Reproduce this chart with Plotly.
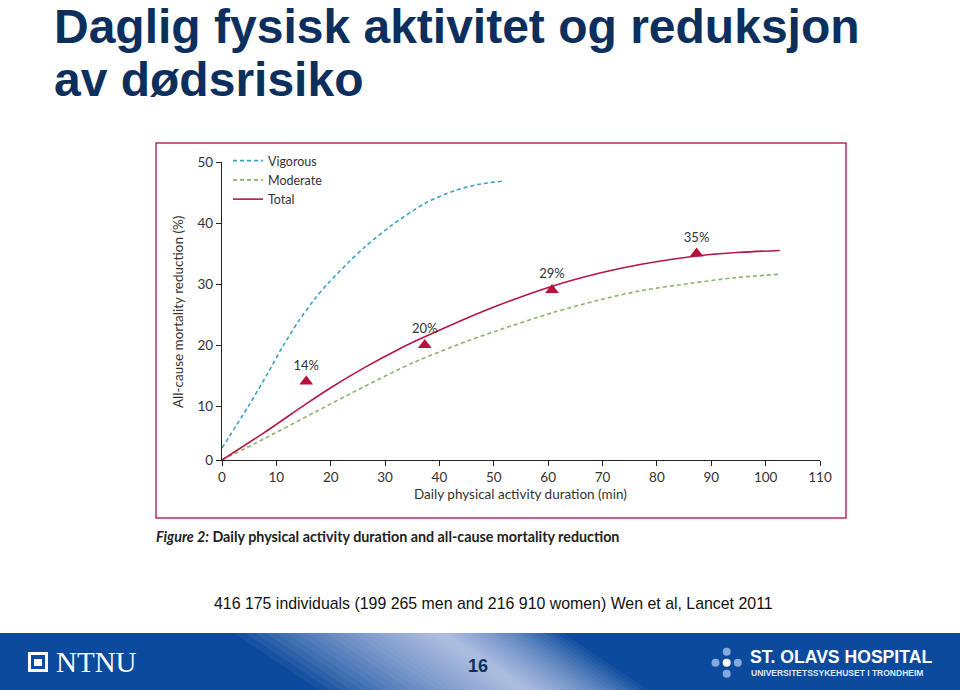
import plotly.graph_objects as go

# ---------------- data ----------------
vig_x = [0, 4.8, 8.5, 11.0, 14.0, 17.1, 19.5, 23.0, 26.3, 31.2, 37.3, 42.8, 47.0, 52.0]
vig_y = [3.1, 9.9, 15.5, 19.5, 23.8, 27.6, 30.1, 33.3, 36.1, 39.6, 43.2, 45.3, 46.3, 46.9]

mod_x = [0, 7.7, 17.1, 26.2, 35.4, 45.0, 51.1, 60.8, 69.5, 77.0, 86.1, 94.0, 102.6]
mod_y = [1.15, 4.6, 9.0, 13.2, 17.2, 20.6, 22.5, 25.3, 27.4, 28.9, 30.1, 31.0, 31.6]

tot_x = [0, 7.7, 15.4, 20.0, 26.2, 32.7, 37.2, 45.0, 51.1, 60.6, 69.5, 76.9, 87.3, 95.3, 102.6]
tot_y = [1.15, 5.6, 10.3, 13.0, 16.3, 19.4, 21.3, 24.4, 26.6, 29.6, 31.8, 33.2, 34.6, 35.2, 35.5]

tri_x = [15.5, 37.3, 60.7, 87.3]
tri_y = [14, 20, 29, 35]
tri_labels = ["14%", "20%", "29%", "35%"]

x_ticks = [0, 10, 20, 30, 40, 50, 60, 70, 80, 90, 100, 110]
y_tick_vals = [1.15, 10, 20, 30, 40, 50]
y_tick_text = ["0", "10", "20", "30", "40", "50"]

series_names = ["Vigorous", "Moderate", "Total"]

# ---------------- page geometry helpers ----------------
W, H = 960, 690


def px(x):
    return x / W


def py(y):
    return 1 - y / H


TICKFONT = dict(family="Lato, Noto Sans, sans-serif", size=13.5, color="#333333")

fig = go.Figure()

fig.add_trace(go.Scatter(
    x=vig_x, y=vig_y, mode="lines", name=series_names[0],
    line=dict(color="#3aa3c8", width=1.6, dash="4px,3px", shape="spline", smoothing=0.8),
))
fig.add_trace(go.Scatter(
    x=mod_x, y=mod_y, mode="lines", name=series_names[1],
    line=dict(color="#8db36a", width=1.6, dash="4px,3px", shape="spline", smoothing=0.8),
))
fig.add_trace(go.Scatter(
    x=tot_x, y=tot_y, mode="lines", name=series_names[2],
    line=dict(color="#b3164a", width=1.6, shape="spline", smoothing=0.8),
))
fig.add_trace(go.Scatter(
    x=tri_x, y=tri_y, mode="markers+text", showlegend=False,
    marker=dict(symbol="triangle-up", size=12, color="#b5123f"),
    text=tri_labels, textposition="top center",
    textfont=dict(family="Lato, Noto Sans, sans-serif", size=13, color="#333333"),
    cliponaxis=False,
))

shapes = []
# chart frame
shapes.append(dict(type="rect", xref="paper", yref="paper",
                   x0=px(156), x1=px(846), y0=py(518), y1=py(143),
                   line=dict(color="#b0305e", width=1.5), fillcolor="rgba(0,0,0,0)"))
# footer band
shapes.append(dict(type="rect", xref="paper", yref="paper",
                   x0=0, x1=1, y0=0, y1=py(633),
                   line=dict(width=0), fillcolor="#0b4a9c", layer="below"))
# swoosh highlight (many thin translucent layers -> smooth gradient)
n_layers = 24
for i in range(n_layers):
    f = 1 - i / n_layers
    wl = 6 + 200 * f ** 1.3
    wr = 3 + 120 * f ** 1.3
    path = (f"M {px(440 - wl)},{py(633)} L {px(440 + wr)},{py(633)} "
            f"L {px(525 + wr)},{py(690)} L {px(525 - wl)},{py(690)} Z")
    shapes.append(dict(type="path", xref="paper", yref="paper", path=path,
                       fillcolor="#eeeaf7", opacity=0.055, line=dict(width=0), layer="below"))
# NTNU logo square
shapes.append(dict(type="rect", xref="paper", yref="paper",
                   x0=px(28), x1=px(48), y0=py(672), y1=py(652),
                   line=dict(width=0), fillcolor="white"))
shapes.append(dict(type="rect", xref="paper", yref="paper",
                   x0=px(31), x1=px(45), y0=py(669), y1=py(655),
                   line=dict(width=0), fillcolor="#0b4a9c"))
shapes.append(dict(type="rect", xref="paper", yref="paper",
                   x0=px(34), x1=px(42), y0=py(666), y1=py(659),
                   line=dict(width=0), fillcolor="white"))
# St. Olavs dots
for cx, cy, col in [(726.7, 651.7, "#86a9dd"), (715.5, 662.7, "#86a9dd"),
                    (726.7, 662.7, "white"), (737.8, 662.7, "#86a9dd"),
                    (726.7, 673.7, "#86a9dd")]:
    r = 4
    shapes.append(dict(type="circle", xref="paper", yref="paper",
                       x0=px(cx - r), x1=px(cx + r), y0=py(cy + r), y1=py(cy - r),
                       line=dict(width=0), fillcolor=col))

annotations = []
TITLE_FONT = dict(family="Liberation Sans, Arial, sans-serif", size=48, color="#0d2f5e")
annotations.append(dict(text="<b>Daglig fysisk aktivitet og reduksjon</b>", xref="paper", yref="paper",
                        x=px(52), y=py(26.5), xanchor="left", yanchor="middle", showarrow=False,
                        font=TITLE_FONT))
annotations.append(dict(text="<b>av dødsrisiko</b>", xref="paper", yref="paper",
                        x=px(52), y=py(79), xanchor="left", yanchor="middle", showarrow=False,
                        font=TITLE_FONT))
annotations.append(dict(text="<b><i>Figure 2:</i> Daily physical activity duration and all-cause mortality reduction</b>",
                        xref="paper", yref="paper", x=px(154), y=py(536), xanchor="left", yanchor="middle",
                        showarrow=False, font=dict(family="Lato, Noto Sans, sans-serif", size=14.3, color="#222222")))
annotations.append(dict(text="416 175 individuals (199 265 men and 216 910 women) Wen et al, Lancet 2011",
                        xref="paper", yref="paper", x=px(494), y=py(603), xanchor="center", yanchor="middle",
                        showarrow=False, font=dict(family="Liberation Sans, Arial, sans-serif", size=15.9, color="#111111")))
annotations.append(dict(text="NTNU", xref="paper", yref="paper", x=px(54), y=py(662),
                        xanchor="left", yanchor="middle", showarrow=False,
                        font=dict(family="Liberation Serif, serif", size=29, color="white")))
annotations.append(dict(text="<b>16</b>", xref="paper", yref="paper", x=px(478), y=py(666),
                        xanchor="center", yanchor="middle", showarrow=False,
                        font=dict(family="Liberation Sans, Arial, sans-serif", size=18, color="#0d2f5e")))
annotations.append(dict(text="<b>ST. OLAVS HOSPITAL</b>", xref="paper", yref="paper", x=px(748), y=py(657),
                        xanchor="left", yanchor="middle", showarrow=False,
                        font=dict(family="Liberation Sans, Arial, sans-serif", size=17.6, color="white")))
annotations.append(dict(text="<b>UNIVERSITETSSYKEHUSET I TRONDHEIM</b>", xref="paper", yref="paper",
                        x=px(749), y=py(672.5), xanchor="left", yanchor="middle", showarrow=False,
                        font=dict(family="Liberation Sans, Arial, sans-serif", size=8.5, color="#dfe7f5")))
annotations.append(dict(text="All-cause mortality reduction (%)", xref="paper", yref="paper",
                        x=px(178), y=py(312), xanchor="center", yanchor="middle", textangle=-90,
                        showarrow=False, font=TICKFONT))
annotations.append(dict(text="Daily physical activity duration (min)", xref="paper", yref="paper",
                        x=px(520), y=py(494), xanchor="center", yanchor="middle",
                        showarrow=False, font=TICKFONT))

fig.update_layout(
    width=W, height=H, autosize=False,
    margin=dict(l=0, r=0, t=0, b=0, pad=0, autoexpand=False),
    paper_bgcolor="white", plot_bgcolor="white",
    shapes=shapes, annotations=annotations,
    xaxis=dict(domain=[px(222), px(820)], range=[0, 110], tickvals=x_ticks, automargin=False,
               showline=True, linecolor="#222222", linewidth=1.3,
               ticks="outside", ticklen=5, tickcolor="#222222", tickwidth=1.2,
               showgrid=False, zeroline=False, tickfont=TICKFONT),
    yaxis=dict(domain=[py(460), py(162)], range=[1.15, 50], tickvals=y_tick_vals, ticktext=y_tick_text,
               automargin=False,
               showline=True, linecolor="#222222", linewidth=1.3,
               ticks="outside", ticklen=5, tickcolor="#222222", tickwidth=1.2,
               showgrid=False, zeroline=False, tickfont=TICKFONT),
    legend=dict(x=px(228), y=py(146), xanchor="left", yanchor="top",
                bgcolor="rgba(0,0,0,0)", font=dict(family="Lato, Noto Sans, sans-serif", size=12.5, color="#333333"),
                itemwidth=30, tracegroupgap=0),
    showlegend=True,
)

fig.write_html("out.html")
